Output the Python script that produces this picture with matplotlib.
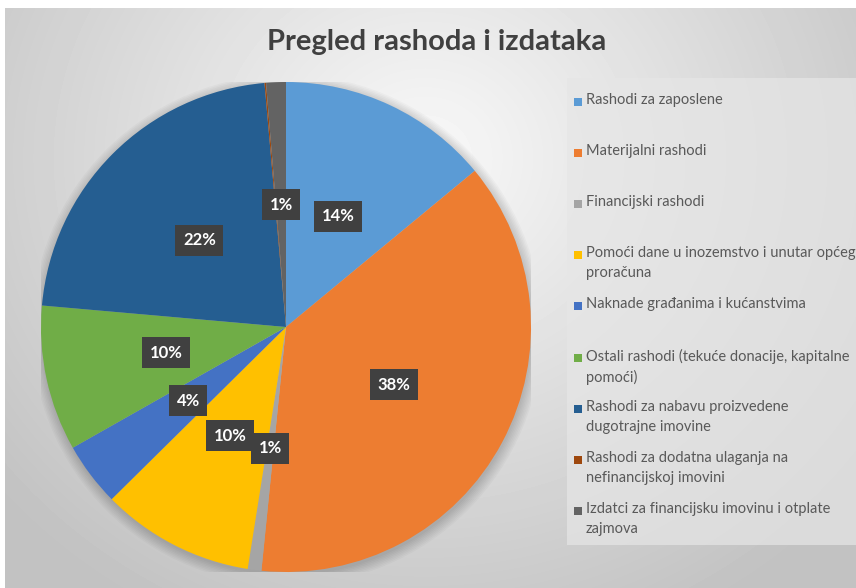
import matplotlib.pyplot as plt
import numpy as np
from matplotlib.patches import Rectangle

plt.rcParams['font.family'] = ['Lato', 'DejaVu Sans']

labels = ["Rashodi za zaposlene",
          "Materijalni rashodi",
          "Financijski rashodi",
          "Pomoći dane u inozemstvo i unutar općeg\nproračuna",
          "Naknade građanima i kućanstvima",
          "Ostali rashodi (tekuće donacije, kapitalne\npomoći)",
          "Rashodi za nabavu proizvedene\ndugotrajne imovine",
          "Rashodi za dodatna ulaganja na\nnefinancijskoj imovini",
          "Izdatci za financijsku imovinu i otplate\nzajmova"]
shares = [14.0, 37.6, 0.9, 10.1, 4.2, 9.6, 22.2, 0.1, 1.3]
colors = ["#5B9BD5", "#ED7D31", "#A5A5A5", "#FFC000", "#4472C4",
          "#70AD47", "#255E91", "#9E480E", "#636363"]

W, H = 856, 588
fig = plt.figure(figsize=(W / 100, H / 100), dpi=100)
fig.patch.set_facecolor("white")

# background gradient of the chart area
bg = fig.add_axes([5 / W, 0, 1 - 5 / W, (H - 8) / H])
yy, xx = np.mgrid[0:580, 0:851]
d = np.sqrt(((xx - 420) / 520.0) ** 2 + ((yy - 150) / 480.0) ** 2)
g = np.clip(0.975 - 0.2 * d, 0.76, 1)
bg.imshow(g, cmap="gray", vmin=0, vmax=1, aspect="auto", interpolation="bilinear")
bg.axis("off")

fig.text(437 / W, 1 - 42 / H, "Pregled rashoda i izdataka", ha="center", va="center",
         fontsize=21, fontweight="bold", color="#404040")

# pie
cx, cy, r = 286, 327, 245
ax = fig.add_axes([(cx - r) / W, (H - cy - r) / H, 2 * r / W, 2 * r / H])

# soft shadow
for k in range(8):
    ax.add_patch(plt.Circle((0.004, -0.012), 1.0 + 0.006 * k, color="black",
                            alpha=0.025, lw=0, zorder=0))


def fmt(p):
    return "%d%%" % round(p) if p >= 0.5 else ""


wedges, texts, autotexts = ax.pie(shares, colors=colors, startangle=90, counterclock=False,
                                  radius=1, autopct=fmt, pctdistance=0.5,
                                  wedgeprops=dict(linewidth=0, zorder=1),
                                  textprops=dict(color="white", fontsize=12, fontweight="bold"))
for t in autotexts:
    if t.get_text():
        t.set_bbox(dict(boxstyle="square,pad=0.45", fc="#404040", ec="none"))
        t.set_zorder(5)
ax.set_xlim(-1, 1)
ax.set_ylim(-1, 1)
ax.axis("off")

# legend
lx0, ly0, lx1, ly1 = 567, 78, 856, 545
fig.add_artist(Rectangle((lx0 / W, 1 - ly1 / H), (lx1 - lx0) / W, (ly1 - ly0) / H,
                         transform=fig.transFigure, fc="#e6e6e6", ec="none", alpha=0.7))
for i, (lab, c) in enumerate(zip(labels, colors)):
    y = 102 + i * 51.1
    fig.add_artist(Rectangle((574 / W, 1 - (y + 4) / H), 8 / W, 8 / H,
                             transform=fig.transFigure, fc=c, ec="none"))
    fig.text(586 / W, 1 - (y - 9) / H, lab, ha="left", va="top", fontsize=10.5,
             color="#595959", linespacing=1.55)

fig.savefig("out.png", dpi=100)
